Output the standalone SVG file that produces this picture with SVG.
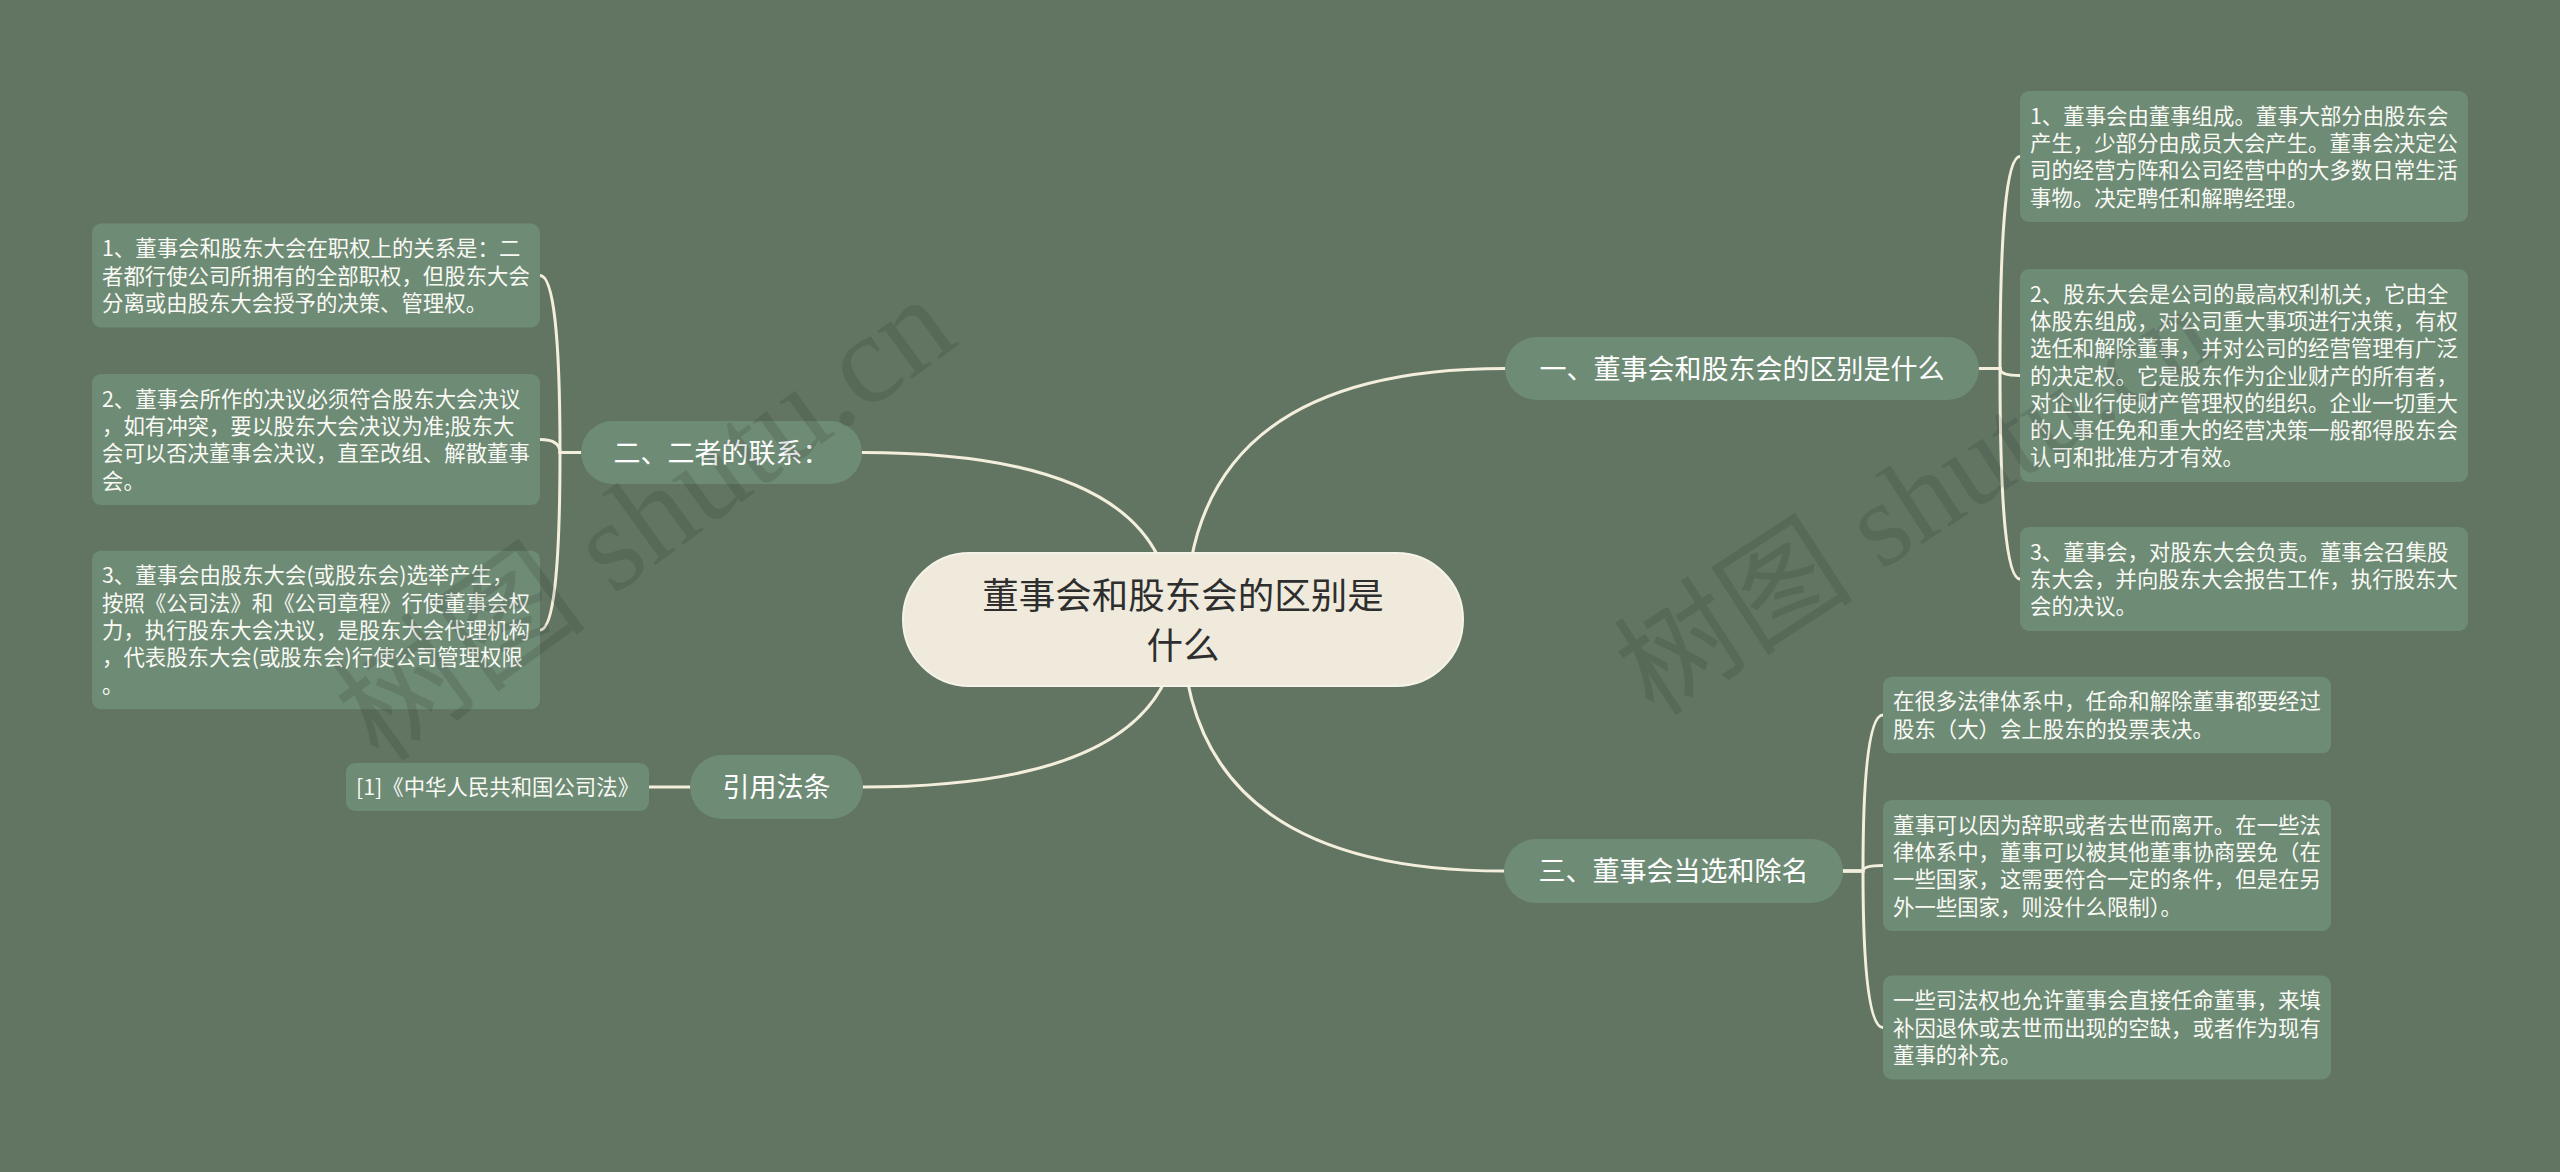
<svg xmlns="http://www.w3.org/2000/svg" width="2560" height="1172" viewBox="0 0 2560 1172">
<style>
.bg{fill:#617562}
.conn path{fill:none;stroke:#F3EFDC;stroke-width:3;stroke-linecap:round}
.box{fill:#6E8B75}
.pill{fill:#6E8B75}
.lt{font-family:"Noto Sans CJK SC","Noto Sans",sans-serif;font-size:21.4px;fill:#FAFAF5}
.pt{font-family:"Noto Sans CJK SC","Noto Sans",sans-serif;font-size:27px;fill:#FFFFFF;text-anchor:middle}
.ct{font-family:"Noto Sans CJK SC","Noto Sans",sans-serif;font-size:36.5px;fill:#2E2E2E;text-anchor:middle}
.wm{font-family:"Liberation Serif","Noto Sans CJK SC",serif;font-size:120px;fill:#000;fill-opacity:0.1}
</style>
<rect class="bg" x="0" y="0" width="2560" height="1172"/>

<g id="connectors" class="conn">
<path d="M1186,620 Q1186,368.5 1505,368.5"/>
<path d="M1172,620 Q1172,452.5 862,452.5"/>
<path d="M1182,620 Q1182,871 1504,871"/>
<path d="M1178,620 Q1178,787 863,787"/>
<path d="M1979,368.5 H2000 Q2000,156.5 2020,156.5"/>
<path d="M1979,368.5 H2000 Q2000,375.5 2020,375.5"/>
<path d="M1979,368.5 H2000 Q2000,579 2020,579"/>
<path d="M1843,871 H1863 Q1863,715 1883,715"/>
<path d="M1843,871 H1863 Q1863,865.5 1883,865.5"/>
<path d="M1843,871 H1863 Q1863,1027.5 1883,1027.5"/>
<path d="M581,452.5 H560 Q560,275.5 540,275.5"/>
<path d="M581,452.5 H560 Q560,439.5 540,439.5"/>
<path d="M581,452.5 H560 Q560,630 540,630"/>
<path d="M690,787 H649"/>
</g>

<g id="root">
<rect x="903" y="553" width="560" height="133" rx="66.5" fill="#EFEADB" stroke="#F6F3E8" stroke-width="2"/>
<text class="ct" x="1183" y="609">董事会和股东会的区别是</text>
<text class="ct" x="1183" y="659">什么</text>
</g>

<g id="b1">
<rect class="pill" x="1505" y="337" width="474" height="63" rx="31.5"/>
<text class="pt" x="1742" y="378.5">一、董事会和股东会的区别是什么</text>
</g>
<g id="b2">
<rect class="pill" x="581" y="421" width="281" height="63" rx="31.5"/>
<text class="pt" x="721.5" y="462.5">二、二者的联系：</text>
</g>
<g id="b3">
<rect class="pill" x="1504" y="839" width="339" height="64" rx="32"/>
<text class="pt" x="1673.5" y="881">三、董事会当选和除名</text>
</g>
<g id="b4">
<rect class="pill" x="690" y="755" width="173" height="64" rx="32"/>
<text class="pt" x="776.5" y="797">引用法条</text>
</g>

<g id="r1-1">
<rect class="box" x="2020" y="90.9" width="448" height="131.2" rx="9"/>
<text class="lt"><tspan x="2030" y="123.5">1、董事会由董事组成。董事大部分由股东会</tspan><tspan x="2030" y="150.9">产生，少部分由成员大会产生。董事会决定公</tspan><tspan x="2030" y="178.2">司的经营方阵和公司经营中的大多数日常生活</tspan><tspan x="2030" y="205.5">事物。决定聘任和解聘经理。</tspan></text>
</g>
<g id="r1-2">
<rect class="box" x="2020" y="269" width="448" height="213.1" rx="9"/>
<text class="lt"><tspan x="2030" y="301.6">2、股东大会是公司的最高权利机关，它由全</tspan><tspan x="2030" y="328.9">体股东组成，对公司重大事项进行决策，有权</tspan><tspan x="2030" y="356.2">选任和解除董事，并对公司的经营管理有广泛</tspan><tspan x="2030" y="383.5">的决定权。它是股东作为企业财产的所有者，</tspan><tspan x="2030" y="410.8">对企业行使财产管理权的组织。企业一切重大</tspan><tspan x="2030" y="438.1">的人事任免和重大的经营决策一般都得股东会</tspan><tspan x="2030" y="465.4">认可和批准方才有效。</tspan></text>
</g>
<g id="r1-3">
<rect class="box" x="2020" y="527" width="448" height="103.9" rx="9"/>
<text class="lt"><tspan x="2030" y="559.7">3、董事会，对股东大会负责。董事会召集股</tspan><tspan x="2030" y="587">东大会，并向股东大会报告工作，执行股东大</tspan><tspan x="2030" y="614.3">会的决议。</tspan></text>
</g>

<g id="r3-1">
<rect class="box" x="1883" y="676.7" width="448" height="76.6" rx="9"/>
<text class="lt"><tspan x="1893" y="709.4">在很多法律体系中，任命和解除董事都要经过</tspan><tspan x="1893" y="736.7">股东（大）会上股东的投票表决。</tspan></text>
</g>
<g id="r3-2">
<rect class="box" x="1883" y="799.9" width="448" height="131.2" rx="9"/>
<text class="lt"><tspan x="1893" y="832.6">董事可以因为辞职或者去世而离开。在一些法</tspan><tspan x="1893" y="859.9">律体系中，董事可以被其他董事协商罢免（在</tspan><tspan x="1893" y="887.2">一些国家，这需要符合一定的条件，但是在另</tspan><tspan x="1893" y="914.5">外一些国家，则没什么限制）。</tspan></text>
</g>
<g id="r3-3">
<rect class="box" x="1883" y="975.5" width="448" height="103.9" rx="9"/>
<text class="lt"><tspan x="1893" y="1008.2">一些司法权也允许董事会直接任命董事，来填</tspan><tspan x="1893" y="1035.5">补因退休或去世而出现的空缺，或者作为现有</tspan><tspan x="1893" y="1062.8">董事的补充。</tspan></text>
</g>

<g id="l1">
<rect class="box" x="92" y="223.5" width="448" height="103.9" rx="9"/>
<text class="lt"><tspan x="102" y="256.2">1、董事会和股东大会在职权上的关系是：二</tspan><tspan x="102" y="283.5">者都行使公司所拥有的全部职权，但股东大会</tspan><tspan x="102" y="310.8">分离或由股东大会授予的决策、管理权。</tspan></text>
</g>
<g id="l2">
<rect class="box" x="92" y="373.9" width="448" height="131.2" rx="9"/>
<text class="lt"><tspan x="102" y="406.6">2、董事会所作的决议必须符合股东大会决议</tspan><tspan x="102" y="433.9">，如有冲突，要以股东大会决议为准;股东大</tspan><tspan x="102" y="461.2">会可以否决董事会决议，直至改组、解散董事</tspan><tspan x="102" y="488.5">会。</tspan></text>
</g>
<g id="l3">
<rect class="box" x="92" y="550.7" width="448" height="158.5" rx="9"/>
<text class="lt"><tspan x="102" y="583.4">3、董事会由股东大会(或股东会)选举产生，</tspan><tspan x="102" y="610.7">按照《公司法》和《公司章程》行使董事会权</tspan><tspan x="102" y="638">力，执行股东大会决议，是股东大会代理机构</tspan><tspan x="102" y="665.3">，代表股东大会(或股东会)行使公司管理权限</tspan><tspan x="102" y="692.6">。</tspan></text>
</g>

<g id="ref1">
<rect class="box" x="346" y="763" width="303" height="48" rx="9"/>
<text class="lt" x="356" y="795">[1]《中华人民共和国公司法》</text>
</g>

<g id="watermarks">
<text class="wm" style="font-size:128px" transform="translate(380,765) rotate(-36)">树图 shutu.cn</text>
<text class="wm" transform="translate(1654,718) rotate(-33)">树图 shutu.cn</text>
</g>
</svg>
